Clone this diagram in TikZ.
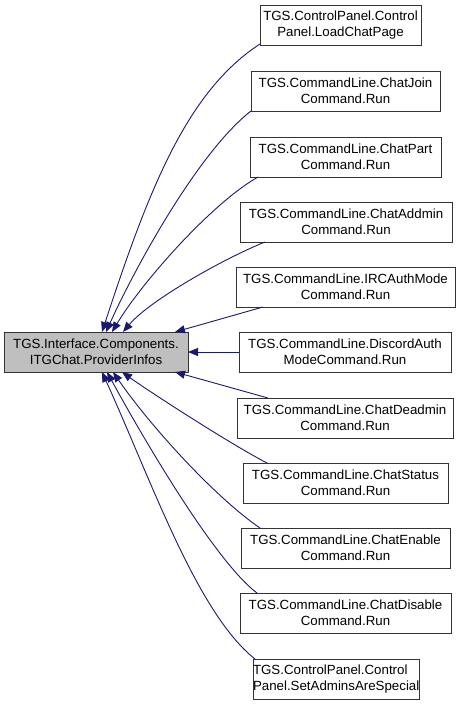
\documentclass[tikz,border=0pt]{standalone}
\usepackage{fontspec}
\setmainfont{Liberation Sans}
\usetikzlibrary{arrows.meta,calc}
\definecolor{edgeblue}{HTML}{191970}
\definecolor{boxgray}{HTML}{BFBFBF}
\tikzset{
  box/.style={draw=black!80, line width=1pt, fill=white, rectangle, anchor=north west,
    inner sep=0pt, outer sep=0pt, minimum height=40pt, align=center,
    font=\fontsize{13.3}{16}\selectfont},
  mainbox/.style={box, fill=boxgray},
  edge/.style={draw=edgeblue, line width=0.9pt, -{Triangle[length=10pt,width=8pt]}},
}
\begin{document}
\begin{tikzpicture}[x=1pt,y=-1pt]
\useasboundingbox (0,0) rectangle (460,705);
\node[mainbox, minimum width=184pt] (L) at (4,332) {TGS.Interface.Components.\\ITGChat.ProviderInfos};
\node[box, minimum width=161pt] (b1) at (260,5) {TGS.ControlPanel.Control\\Panel.LoadChatPage};
\node[box, minimum width=189pt] (b2) at (251,71) {TGS.CommandLine.ChatJoin\\Command.Run};
\node[box, minimum width=191pt] (b3) at (250,137) {TGS.CommandLine.ChatPart\\Command.Run};
\node[box, minimum width=212pt] (b4) at (240,202) {TGS.CommandLine.ChatAddmin\\Command.Run};
\node[box, minimum width=219pt] (b5) at (236,267) {TGS.CommandLine.IRCAuthMode\\Command.Run};
\node[box, minimum width=212pt] (b6) at (239,332) {TGS.CommandLine.DiscordAuth\\ModeCommand.Run};
\node[box, minimum width=216pt] (b7) at (237,398) {TGS.CommandLine.ChatDeadmin\\Command.Run};
\node[box, minimum width=205pt] (b8) at (243,463) {TGS.CommandLine.ChatStatus\\Command.Run};
\node[box, minimum width=209pt] (b9) at (241,528) {TGS.CommandLine.ChatEnable\\Command.Run};
\node[box, minimum width=211pt] (b10) at (240,593) {TGS.CommandLine.ChatDisable\\Command.Run};
\node[box, minimum width=158pt, align=left] (b11) at (253,659) {TGS.ControlPanel.Control\\Panel.SetAdminsAreSpecial};

\draw[edge] ([yshift=1pt]b1.south west) .. controls (186,92) and (148,192) .. ([xshift=98pt]L.north west);
\draw[edge] (b2.south west) .. controls (197,153) and (133,272) .. ([xshift=102pt]L.north west);
\draw[edge] ([xshift=8pt]b3.south west) .. controls (212,203) and (142,282) .. ([xshift=108pt]L.north west);
\draw[edge] ([xshift=25pt]b4.south west) .. controls (225,258) and (150,300) .. ([xshift=119pt]L.north west);
\draw[edge] ([xshift=27pt]b5.south west) -- ([xshift=-13pt]L.north east);
\draw[edge] (b6.west) -- (L.east);
\draw[edge] ([xshift=31pt]b7.north west) -- ([xshift=-13pt]L.south east);
\draw[edge] ([xshift=24pt]b8.north west) .. controls (232,445) and (150,392) .. ([xshift=118pt]L.south west);
\draw[edge] ([xshift=19pt]b9.north west) .. controls (216,498) and (151,427) .. ([xshift=109pt]L.south west);
\draw[edge] ([xshift=17pt]b10.north west) .. controls (217,563) and (148,447) .. ([xshift=103pt]L.south west);
\draw[edge] ([xshift=2pt]b11.north west) .. controls (197,613) and (152,482) .. ([xshift=98pt]L.south west);
\end{tikzpicture}
\end{document}
